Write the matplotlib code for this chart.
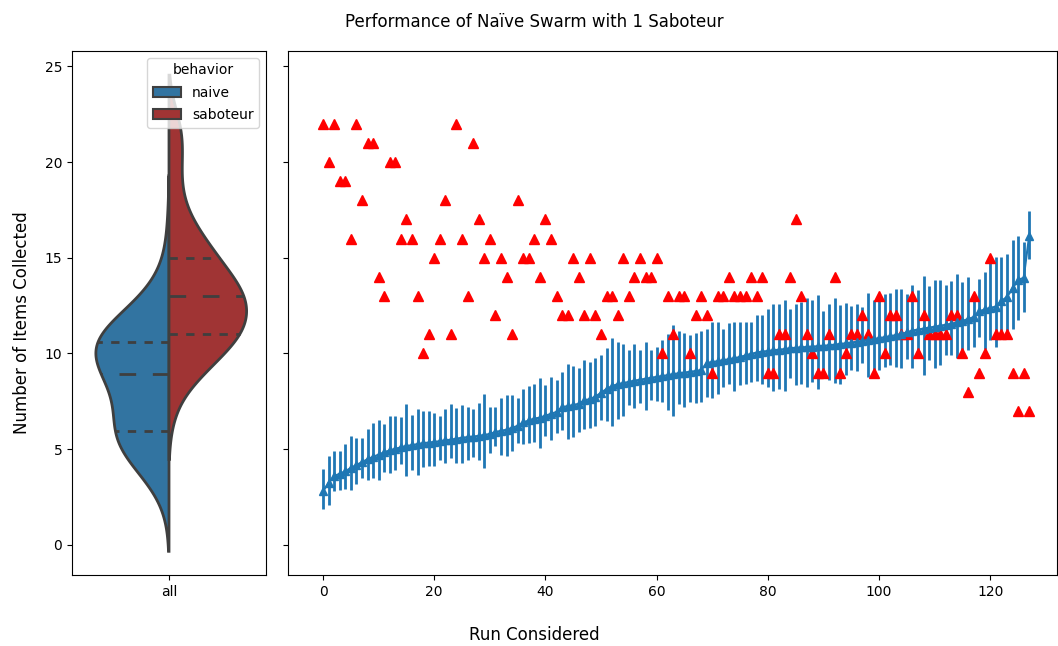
import matplotlib
matplotlib.use("Agg")
import matplotlib.pyplot as plt
from matplotlib.patches import Patch
import numpy as np
import seaborn as sns

# ---------------- data ----------------
runs = list(range(128))

saboteur_items = [22, 20, 22, 19, 19, 16, 22, 18, 21, 21, 14, 13, 20, 20, 16, 17,
                  16, 13, 10, 11, 15, 16, 18, 11, 22, 16, 13, 21, 17, 15, 16, 12,
                  15, 14, 11, 18, 15, 15, 16, 14, 17, 16, 13, 12, 12, 15, 14, 12,
                  15, 12, 11, 13, 13, 12, 15, 13, 14, 15, 14, 14, 15, 10, 13, 11,
                  13, 13, 10, 12, 13, 12, 9, 13, 13, 14, 13, 13, 13, 14, 13, 14,
                  9, 9, 11, 11, 14, 17, 13, 11, 10, 9, 9, 11, 14, 9, 10, 11,
                  11, 12, 11, 9, 13, 10, 12, 12, 11, 11, 13, 10, 12, 11, 11, 11,
                  11, 12, 12, 10, 8, 13, 9, 10, 15, 11, 11, 11, 9, 7, 9, 7]

naive_mean = [2.8, 3.25, 3.6, 3.72, 3.85, 4.02, 4.18, 4.32, 4.48, 4.6, 4.72, 4.84, 4.94, 5.02, 5.1, 5.17,
              5.21, 5.27, 5.31, 5.35, 5.38, 5.42, 5.46, 5.5, 5.55, 5.6, 5.63, 5.66, 5.7, 5.74, 5.8, 5.9,
              5.96, 6.02, 6.12, 6.22, 6.4, 6.5, 6.6, 6.65, 6.75, 6.85, 6.95, 7.2, 7.25, 7.3, 7.38, 7.55,
              7.62, 7.75, 7.95, 8.15, 8.3, 8.4, 8.45, 8.52, 8.58, 8.63, 8.68, 8.73, 8.78, 8.82, 8.87, 8.92,
              8.97, 9.0, 9.05, 9.08, 9.13, 9.5, 9.55, 9.6, 9.65, 9.7, 9.75, 9.82, 9.9, 9.98, 10.05, 10.1,
              10.13, 10.16, 10.2, 10.23, 10.27, 10.3, 10.32, 10.34, 10.36, 10.38, 10.4, 10.43, 10.46, 10.5, 10.53, 10.57,
              10.62, 10.66, 10.7, 10.75, 10.8, 10.85, 10.9, 10.96, 11.02, 11.1, 11.2, 11.25, 11.3, 11.35, 11.4, 11.45,
              11.5, 11.56, 11.62, 11.7, 11.8, 11.9, 12.2, 12.3, 12.38, 12.45, 12.75, 12.95, 13.4, 13.85, 13.95, 16.15]

naive_high = [3.97, 4.66, 4.9, 4.9, 5.27, 5.69, 5.6, 5.6, 6.03, 6.38, 6.5, 6.3, 6.75, 6.75, 6.66, 7.34,
              6.78, 7.1, 7.0, 7.0, 6.87, 6.75, 7.1, 7.34, 7.17, 7.3, 7.22, 7.1, 7.39, 7.91, 7.22, 7.22,
              7.65, 7.83, 7.83, 7.65, 8.17, 8.3, 8.4, 8.73, 8.35, 8.75, 8.6, 9.04, 9.44, 9.36, 9.22, 9.65,
              9.57, 9.77, 9.91, 10.3, 10.83, 10.6, 10.52, 10.17, 10.47, 10.17, 10.6, 10.17, 10.35, 10.73, 11.04, 11.48,
              11.18, 11.08, 10.96, 11.08, 11.18, 11.3, 11.65, 11.65, 11.3, 11.6, 11.65, 11.65, 11.65, 11.65, 12.0, 12.0,
              12.3, 12.6, 12.56, 12.78, 12.3, 12.6, 12.7, 12.92, 12.82, 13.04, 12.23, 12.6, 12.92, 12.52, 12.66, 12.47,
              12.6, 12.43, 13.18, 12.78, 13.04, 13.13, 13.16, 13.36, 13.35, 13.1, 13.57, 13.34, 14.03, 13.51, 13.83, 13.86,
              13.6, 13.77, 14.14, 13.74, 13.97, 13.04, 13.91, 14.26, 14.78, 15.04, 15.04, 15.22, 15.91, 16.12, 15.83, 17.44]

naive_low = [1.86, 2.09, 2.83, 2.87, 2.9, 2.87, 3.2, 3.5, 3.39, 3.48, 3.39, 3.8, 3.74, 3.9, 4.22, 3.6,
             3.9, 3.65, 4.09, 4.14, 4.14, 4.43, 4.26, 4.52, 4.26, 4.3, 4.43, 4.6, 4.43, 4.0, 4.78, 5.17,
             4.7, 4.64, 4.92, 5.3, 5.27, 5.34, 5.39, 5.04, 5.69, 5.48, 5.86, 6.0, 5.53, 5.62, 5.91, 6.05,
             6.09, 6.2, 6.52, 6.45, 6.2, 6.6, 6.75, 7.3, 7.13, 7.39, 7.04, 7.57, 7.51, 7.48, 7.04, 6.73,
             7.36, 7.18, 7.48, 7.39, 7.48, 7.74, 7.7, 7.91, 8.26, 8.43, 8.03, 8.35, 8.43, 8.52, 8.55, 8.43,
             8.26, 8.05, 8.17, 8.05, 8.7, 8.35, 8.43, 8.23, 8.52, 8.12, 8.78, 8.6, 8.47, 8.43, 8.87, 9.13,
             9.1, 9.48, 8.78, 9.0, 9.13, 9.3, 9.39, 9.3, 9.22, 9.7, 9.22, 9.97, 8.87, 9.65, 9.25, 9.39,
             9.91, 9.91, 9.79, 10.09, 10.17, 10.35, 10.87, 10.21, 10.7, 10.35, 10.78, 11.04, 11.3, 11.74, 12.17, 14.96]

behaviors = ["naive", "saboteur"]
group_label = "all"


# ---------------- helpers ----------------
def kde(values, bw_adjust=1.0, cut=2.0, npts=300):
    x = np.asarray(values, dtype=float)
    bw = x.std(ddof=1) * len(x) ** (-1 / 5) * bw_adjust
    grid = np.linspace(x.min() - cut * bw, x.max() + cut * bw, npts)
    dens = np.exp(-0.5 * ((grid[:, None] - x[None, :]) / bw) ** 2).sum(1)
    dens /= len(x) * bw * np.sqrt(2 * np.pi)
    return grid, dens


# ---------------- figure ----------------
fig = plt.figure(figsize=(10.58, 6.46), dpi=100)
ax_v = fig.add_axes([72 / 1058, 1 - 575 / 646, 194 / 1058, 524 / 646])
ax_r = fig.add_axes([288 / 1058, 1 - 575 / 646, 769 / 1058, 524 / 646], sharey=ax_v)

colors = {"naive": sns.desaturate("tab:blue", 0.75), "saboteur": sns.desaturate("firebrick", 0.75)}
edge = "#3f3f3f"

datasets = {"naive": naive_mean, "saboteur": saboteur_items}
bw_adj = {"naive": 1.5, "saboteur": 1.0}
kdes = {b: kde(datasets[b], bw_adj[b]) for b in behaviors}
scale = 0.4 / max(d.max() for _, d in kdes.values())

for b, sign in zip(behaviors, (-1, 1)):
    grid, dens = kdes[b]
    xs = sign * dens * scale
    poly_x = np.concatenate([xs, np.zeros_like(xs)[::-1]])
    poly_y = np.concatenate([grid, grid[::-1]])
    ax_v.fill(poly_x, poly_y, facecolor=colors[b], edgecolor=edge, linewidth=2, zorder=2)
    qs = np.percentile(datasets[b], [25, 50, 75])
    for j, q in enumerate(qs):
        w = sign * np.interp(q, grid, dens) * scale
        ln, = ax_v.plot([0, w], [q, q], color=edge, linewidth=2, zorder=3)
        ln.set_dashes((6, 6) if j == 1 else (3, 3))

ax_v.set_xlim(-0.5, 0.5)
ax_v.set_xticks([0])
ax_v.set_xticklabels([group_label])
handles = [Patch(facecolor=colors[b], edgecolor=edge, linewidth=1.5, label=b) for b in behaviors]
ax_v.legend(handles=handles, title="behavior", loc="upper right", labelspacing=0.6)

mean_arr = np.array(naive_mean)
yerr = np.vstack([mean_arr - np.array(naive_low), np.array(naive_high) - mean_arr])
ax_r.errorbar(runs, naive_mean, yerr=yerr, fmt="^-", color="tab:blue",
              elinewidth=2, markersize=6, linewidth=1.5)
ax_r.plot(runs, saboteur_items, "^", color="red", markersize=7.5, linestyle="none")
ax_r.set_xlim(-6.3, 132.0)
ax_r.tick_params(axis="y", labelleft=False)

ax_v.set_ylim(-1.57, 25.8)
ax_v.set_yticks([0, 5, 10, 15, 20, 25])

fig.suptitle("Performance of Naïve Swarm with 1 Saboteur", fontsize=12, x=0.505, y=0.98)
fig.supxlabel("Run Considered", fontsize=12, x=0.505, y=0.003)
fig.supylabel("Number of Items Collected", fontsize=12, x=0.012)

fig.savefig("out.png", dpi=100)
